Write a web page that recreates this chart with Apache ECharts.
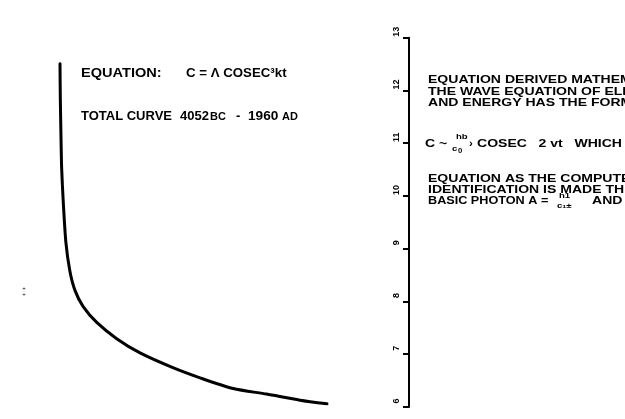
<!DOCTYPE html>
<html><head><meta charset="utf-8">
<script src="https://cdn.jsdelivr.net/npm/echarts@6/dist/echarts.min.js"></script>
<style>html,body{margin:0;padding:0;background:#fff}#c{width:625px;height:419px}</style>
</head><body><div id="c"></div>
<script>
// Curve: total curve 4052 BC - 1960 AD (x = year), y on the same scale as the right axis
const curveYears  = [-4052, -4045, -4030, -4015, -3980, -3920, -3830, -3715, -3530, -3225, -2775, -2250, -1510, -900, -155, 600, 1350, 1960];
const curveValues = [12.49, 11.82, 11.06, 10.44, 9.79, 8.98, 8.41, 8.03, 7.71, 7.40, 7.08, 6.80, 6.51, 6.31, 6.10, 5.99, 5.87, 5.80];
const axisMin = 6, axisMax = 13, axisStep = 1;

const FONT = "'Liberation Sans', Arial, sans-serif";
const chart = echarts.init(document.getElementById('c'), null, {renderer: 'canvas'});

function txt(x, y, s, size, sx) {
  return {
    type: 'text', x: x, y: y, scaleX: sx || 1, silent: true,
    style: {text: s, fontSize: size, fontWeight: 'bold', fontFamily: FONT, fill: '#000',
            align: 'left', verticalAlign: 'middle'}
  };
}

const RS = 11.5, RX = 1.22;
const graphics = [
  txt(81, 73, 'EQUATION:', 13, 1.12),
  txt(186, 73, 'C = Λ COSEC³kt', 13, 1.02),
  txt(81, 116, 'TOTAL CURVE', 13, 1.0),
  txt(180, 116, '4052', 13, 1.0),
  txt(210, 117.5, 'BC', 10, 1.1),
  txt(236, 116, '-', 13, 1.0),
  txt(248, 116, '1960', 13, 1.05),
  txt(282, 117.5, 'AD', 10, 1.1),
  txt(428, 80, 'EQUATION DERIVED MATHEM', RS, RX),
  txt(428, 91.5, 'THE WAVE EQUATION OF ELE', RS, RX),
  txt(428, 103, 'AND ENERGY HAS THE FORM', RS, RX),
  txt(425, 144, 'C ~', RS, RX),
  txt(456, 137, 'hb', 8, 1.2),
  txt(452, 149, 'c', 8, 1.2),
  txt(458, 151, '0', 7, 1.1),
  txt(469, 144, '›', RS, 1),
  txt(477, 144, 'COSEC   2 vt   WHICH', RS, RX),
  txt(428, 179, 'EQUATION AS THE COMPUTE', RS, RX),
  txt(428, 190, 'IDENTIFICATION IS MADE TH', RS, RX),
  txt(428, 201, 'BASIC PHOTON A =', RS, 1.1),
  txt(559, 196, 'h1', 8, 1.2),
  txt(557, 206, 'c₁±', 8, 1.2),
  txt(592, 201, 'AND', RS, RX),
  {type: 'text', x: 24, y: 288, silent: true, style: {text: '+', fontSize: 6, fontFamily: FONT, fill: '#000', align: 'center', verticalAlign: 'middle'}},
  {type: 'text', x: 24, y: 294, silent: true, style: {text: '+', fontSize: 6, fontFamily: FONT, fill: '#000', align: 'center', verticalAlign: 'middle'}}
];

const unitPx = (407 - 37.7) / (axisMax - axisMin);
const option = {
  backgroundColor: '#fff',
  animation: false,
  grid: [
    {left: 60, top: 37.7, width: 267, height: 7.5 * unitPx},
    {left: 409, top: 37.7, width: 100, height: 407 - 37.7}
  ],
  xAxis: [
    {gridIndex: 0, type: 'value', min: -4052, max: 1960, show: false},
    {gridIndex: 1, type: 'value', min: 0, max: 1, show: false}
  ],
  yAxis: [
    {gridIndex: 0, type: 'value', min: 5.5, max: 13, show: false},
    {gridIndex: 1, type: 'value', min: axisMin, max: axisMax, interval: axisStep, position: 'left',
     axisLine: {show: true, lineStyle: {color: '#000', width: 2}},
     axisTick: {show: true, length: 6, lineStyle: {color: '#000', width: 2}},
     axisLabel: {rotate: 90, fontSize: 9, fontWeight: 'bold', fontFamily: FONT, color: '#000', margin: 8,
                 padding: [0, 0, 0, 12]},
     splitLine: {show: false}}
  ],
  series: [{
    type: 'line', xAxisIndex: 0, yAxisIndex: 0,
    data: curveYears.map((y, i) => [y, curveValues[i]]),
    smooth: 0.25, symbol: 'none', clip: false,
    lineStyle: {color: '#000', width: 3, cap: 'round', join: 'round'}
  }],
  graphic: graphics
};
chart.setOption(option);
</script></body></html>
